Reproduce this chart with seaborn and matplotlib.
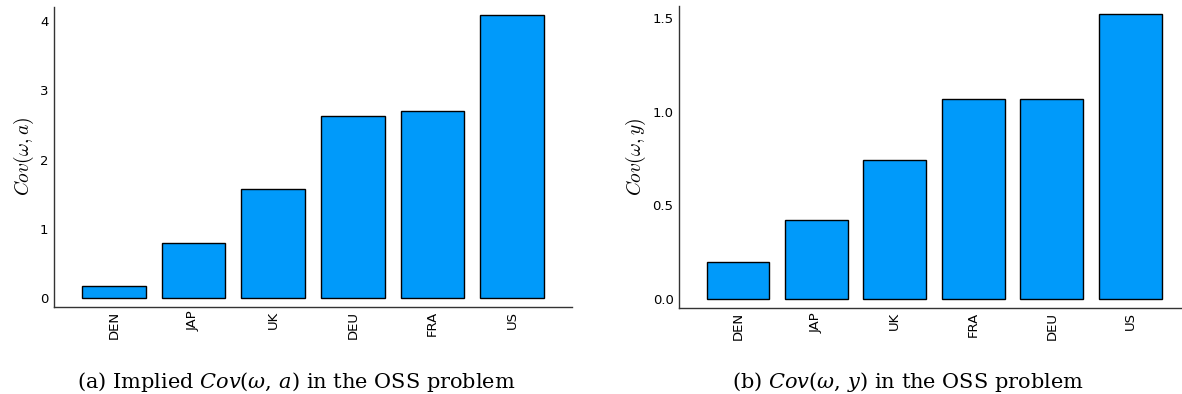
import matplotlib
matplotlib.use("Agg")
import matplotlib.pyplot as plt
import pandas as pd
import seaborn as sns

# panel (a): implied Cov(omega, a)
countries_a = ["DEN", "JAP", "UK", "DEU", "FRA", "US"]
cov_a = [0.18, 0.80, 1.58, 2.63, 2.70, 4.08]

# panel (b): Cov(omega, y)
countries_b = ["DEN", "JAP", "UK", "FRA", "DEU", "US"]
cov_y = [0.20, 0.42, 0.74, 1.065, 1.068, 1.52]

BAR = "#009AFA"

sns.set_style("white")
plt.rcParams["font.family"] = ["DejaVu Sans"]
plt.rcParams["mathtext.fontset"] = "cm"


def bar_panel(ax, cats, vals, ylabel, ylim, yticks, ytlabels):
    df = pd.DataFrame({"country": cats, "value": vals})
    sns.barplot(data=df, x="country", y="value", ax=ax, color=BAR,
                saturation=1, width=0.8, edgecolor="black", linewidth=1.0)
    ax.set_xlim(-0.75, len(cats) - 0.25)
    ax.set_ylim(*ylim)
    ax.set_yticks(yticks)
    ax.set_yticklabels(ytlabels)
    ax.set_xlabel("")
    ax.set_ylabel(ylabel, fontsize=14, labelpad=3, color="black")
    ax.tick_params(axis="x", labelrotation=90, direction="in", length=5,
                   width=1, labelsize=9.5, colors="black", pad=3)
    ax.tick_params(axis="y", direction="in", length=5, width=1,
                   labelsize=9.5, colors="black", pad=4)
    for side in ["top", "right"]:
        ax.spines[side].set_visible(False)
    for side in ["left", "bottom"]:
        ax.spines[side].set_color("#333333")
        ax.spines[side].set_linewidth(1.0)


fig = plt.figure(figsize=(11.82, 3.94), dpi=100)
ax1 = fig.add_axes([0.0457, 0.222, 0.4382, 0.760])
ax2 = fig.add_axes([0.5745, 0.219, 0.4315, 0.767])

bar_panel(ax1, countries_a, cov_a, r"$Cov(\omega, a)$", (-0.12, 4.2),
          [0, 1, 2, 3, 4], ["0", "1", "2", "3", "4"])
bar_panel(ax2, countries_b, cov_y, r"$Cov(\omega, y)$", (-0.046, 1.566),
          [0.0, 0.5, 1.0, 1.5], ["0.0", "0.5", "1.0", "1.5"])

cap_a = fig.text(0.251, 0.015, r"(a) Implied $Cov(\omega,\,a)$ in the OSS problem",
                 ha="center", va="baseline", fontsize=15, family="DejaVu Serif",
                 color="black")
cap_b = fig.text(0.768, 0.015, r"(b) $Cov(\omega,\,y)$ in the OSS problem",
                 ha="center", va="baseline", fontsize=15, family="DejaVu Serif",
                 color="black")
for t in (cap_a, cap_b):
    t.set_math_fontfamily("dejavuserif")

fig.savefig("out.png", dpi=100)
